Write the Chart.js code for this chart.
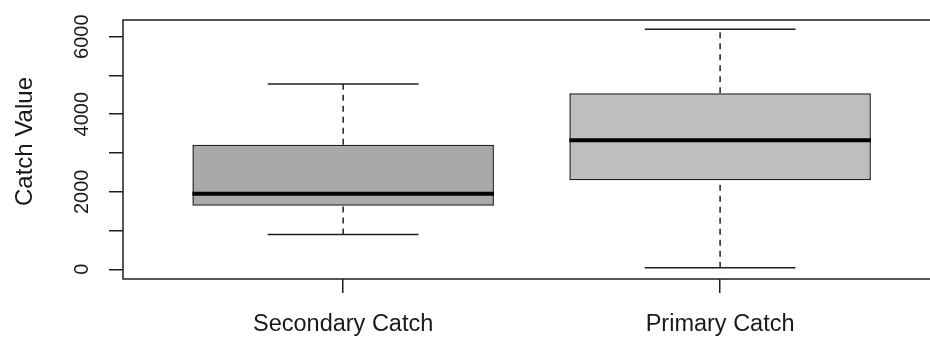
<!DOCTYPE html>
<html>
<head>
<meta charset="utf-8">
<title>Catch Value by Catch Type</title>
<script src="https://cdn.jsdelivr.net/npm/chart.js@4.4.1/dist/chart.umd.min.js"></script>
<style>
  html, body { margin: 0; padding: 0; background: #ffffff; overflow: hidden; }
  #wrap { width: 930px; height: 337px; overflow: hidden; }
  canvas { display: block; }
</style>
</head>
<body>
<div id="wrap"><canvas id="chart" width="960" height="337"></canvas></div>
<script>
// Box-and-whisker summaries per catch type
const categories   = ['Secondary Catch', 'Primary Catch'];
const whiskerLow   = [900, 40];
const lowerQuart   = [1640, 2300];
const medians      = [1950, 3330];
const upperQuart   = [3210, 4540];
const whiskerHigh  = [4780, 6190];
const boxColours   = ['#a9a9a9', '#bebebe'];

// Value axis
const yTickMarks   = [0, 1000, 2000, 3000, 4000, 5000, 6000];
const yTickLabels  = [0, 2000, 4000, 6000];
const yTitle       = 'Catch Value';

const INK = '#1f1f1f';
const FONT = '"Liberation Sans", Arial, sans-serif';

const xs = categories.map((c, i) => i + 1);

const datasets = [];

// boxes: floating bars from lower to upper quartile
datasets.push({
  type: 'bar',
  data: xs.map((x, i) => ({ x: x, y: [lowerQuart[i], upperQuart[i]] })),
  backgroundColor: boxColours,
  borderColor: INK,
  borderWidth: 1.5,
  borderSkipped: false,
  barPercentage: 0.8,
  categoryPercentage: 1,
  order: 10
});

xs.forEach((x, i) => {
  const line = (pts, extra) => Object.assign({
    type: 'line',
    data: pts,
    borderColor: INK,
    borderWidth: 1.5,
    pointRadius: 0,
    fill: false,
    tension: 0,
    borderCapStyle: 'butt',
    order: 5
  }, extra || {});
  // dashed whiskers
  datasets.push(line([{ x: x, y: upperQuart[i] }, { x: x, y: whiskerHigh[i] }], { borderDash: [6, 5] }));
  datasets.push(line([{ x: x, y: whiskerLow[i] }, { x: x, y: lowerQuart[i] }], { borderDash: [6, 5] }));
  // whisker caps
  datasets.push(line([{ x: x - 0.2, y: whiskerHigh[i] }, { x: x + 0.2, y: whiskerHigh[i] }]));
  datasets.push(line([{ x: x - 0.2, y: whiskerLow[i] }, { x: x + 0.2, y: whiskerLow[i] }]));
  // median bar
  datasets.push(line([{ x: x - 0.4, y: medians[i] }, { x: x + 0.4, y: medians[i] }], { borderWidth: 4, borderColor: '#000', order: 0 }));
});

// frame around the plotting region plus rotated value-axis text
const frameAndLabels = {
  id: 'frameAndLabels',
  afterDraw(chart) {
    const { ctx, chartArea: a, scales } = chart;
    ctx.save();
    ctx.strokeStyle = INK;
    ctx.lineWidth = 1.5;
    ctx.strokeRect(a.left, a.top, a.right - a.left, a.bottom - a.top);

    ctx.fillStyle = '#1a1a1a';
    ctx.textAlign = 'center';
    ctx.textBaseline = 'alphabetic';
    ctx.font = '20px ' + FONT;
    yTickLabels.forEach(v => {
      const py = scales.y.getPixelForValue(v);
      ctx.save();
      ctx.translate(87.5, py);
      ctx.rotate(-Math.PI / 2);
      ctx.fillText(String(v), 0, 0);
      ctx.restore();
    });

    ctx.font = '24px ' + FONT;
    ctx.save();
    ctx.translate(32, 141.5);
    ctx.rotate(-Math.PI / 2);
    ctx.fillText(yTitle, 0, 0);
    ctx.restore();
    ctx.restore();
  }
};

new Chart(document.getElementById('chart'), {
  type: 'bar',
  data: { datasets: datasets },
  plugins: [frameAndLabels],
  options: {
    responsive: false,
    animation: false,
    devicePixelRatio: 1,
    layout: { padding: { top: 20, right: 19, bottom: 0, left: 0 } },
    plugins: { legend: { display: false }, tooltip: { enabled: false } },
    scales: {
      x: {
        type: 'linear',
        min: 0.416,
        max: 2.586,
        bounds: 'data',
        offset: false,
        grid: { offset: false, drawOnChartArea: false, color: INK, lineWidth: 1.5, tickLength: 14 },
        border: { display: false },
        afterBuildTicks: s => { s.ticks = xs.map(v => ({ value: v })); },
        afterFit: s => { s.height = 58; },
        ticks: {
          padding: 17,
          color: '#1a1a1a',
          font: { family: FONT, size: 23.5 },
          maxRotation: 0,
          minRotation: 0,
          callback: (v, idx) => categories[idx]
        }
      },
      y: {
        type: 'linear',
        min: -250,
        max: 6430,
        bounds: 'data',
        grid: { drawOnChartArea: false, color: INK, lineWidth: 1.5, tickLength: 14 },
        border: { display: false },
        afterBuildTicks: s => { s.ticks = yTickMarks.map(v => ({ value: v })); },
        afterFit: s => { s.width = 123; },
        ticks: { display: false }
      }
    }
  }
});
</script>
</body>
</html>
